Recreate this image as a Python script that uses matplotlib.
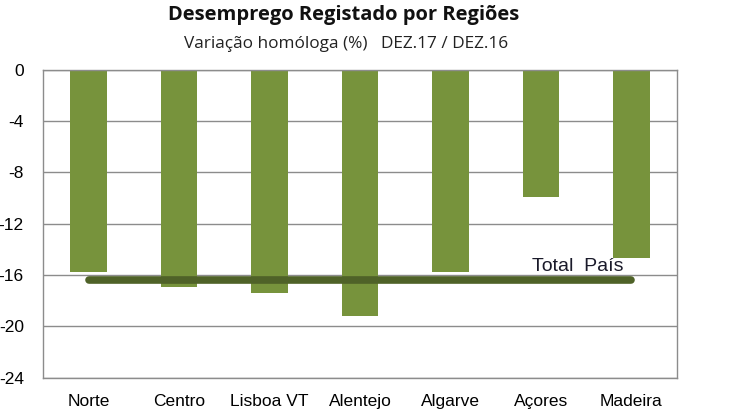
import matplotlib
matplotlib.use("Agg")
import matplotlib.pyplot as plt

regions = ["Norte", "Centro", "Lisboa VT", "Alentejo", "Algarve", "Açores", "Madeira"]
values = [-15.75, -16.95, -17.4, -19.2, -15.8, -9.95, -14.7]
total_pais = -16.4
yticks = [0, -4, -8, -12, -16, -20, -24]

fig = plt.figure(figsize=(7.5, 4.18), dpi=100)
ax = fig.add_axes([43.3/750, 1-377.7/418, (676.7-43.3)/750, (377.7-69.7)/418])

x = list(range(len(regions)))
ax.bar(x, values, width=0.405, color="#77933C", zorder=2)
ax.plot([0, 6], [total_pais, total_pais], color="#4F6228", lw=5.5,
        solid_capstyle="round", zorder=3)
ax.text(5.41, -15.3, "Total  País", ha="center", va="center",
        fontsize=14, family="Liberation Sans", color="#1a1a2a", zorder=4)

ax.set_xlim(-0.5, 6.5)
ax.set_ylim(-24, 0)
ax.set_yticks(yticks)
ax.set_yticklabels([str(v) for v in yticks], family="Liberation Sans", fontsize=12.5)
ax.set_xticks(x)
ax.set_xticklabels(regions, family="Liberation Sans", fontsize=12.5)
ax.tick_params(axis="x", length=0, pad=12)
ax.tick_params(axis="y", length=0, pad=14)
ax.yaxis.grid(True, color="#8c8c8c", lw=1, zorder=1)
for s in ax.spines.values():
    s.set_color("#8c8c8c")
    s.set_linewidth(1)

fig.text(344/750, 1-15/418, "Desemprego Registado por Regiões", ha="center", va="center",
         fontsize=14.5, fontweight="bold", family="Open Sans", color="#111111")
fig.text(346/750, 1-44/418, "Variação homóloga (%)   DEZ.17 / DEZ.16", ha="center", va="center",
         fontsize=12.4, family="Open Sans", color="#222222")

fig.savefig("out.png", dpi=100)
